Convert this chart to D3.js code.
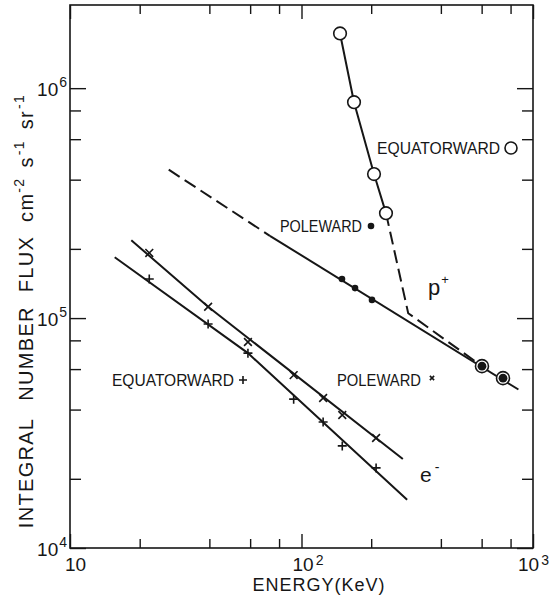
<!DOCTYPE html>
<html>
<head>
<meta charset="utf-8">
<script src="https://cdn.jsdelivr.net/npm/d3@7"></script>
<style>
  body { margin: 0; background: #fff; }
  svg { display: block; }
  text { font-family: "Liberation Sans", Arial, sans-serif; fill: #161616; }
</style>
</head>
<body>
<div id="chart"></div>
<script>
// electrons: energies (keV) and integral fluxes
var eEnergy = [22, 39.5, 58.7, 92.5, 124, 150, 210];
var ePoleFlux = [1.92e5, 1.12e5, 7.87e4, 5.65e4, 4.49e4, 3.79e4, 3.01e4];
var eEquatFlux = [1.48e5, 9.42e4, 7.04e4, 4.44e4, 3.53e4, 2.78e4, 2.23e4];
// hand-drawn electron lines (vertices)
var ePoleFitE = [18.4, 39.5, 274], ePoleFitF = [2.18e5, 1.12e5, 2.44e4];
var eEquatFitE = [15.6, 58.7, 286], eEquatFitF = [1.84e5, 7.04e4, 1.62e4];

// protons
var pEquatE = [146.7, 168.6, 205.7, 231.7];
var pEquatF = [1.73e6, 8.69e5, 4.23e5, 2.86e5];
var pPoleE = [149.6, 170.3, 201.6];
var pPoleF = [1.48e5, 1.35e5, 1.2e5];
var pBothE = [602, 742];          // equatorward and poleward coincide
var pBothF = [6.18e4, 5.48e4];
// equatorward extrapolation (dashed) : last circle -> bend -> first shared point
var pEquatDashE = [231.7, 289, 602], pEquatDashF = [2.86e5, 1.05e5, 6.18e4];
// poleward fit: dashed part then solid part
var pPoleDashE = [26.7, 73], pPoleDashF = [4.42e5, 2.28e5];
var pPoleSolidE = [73, 865], pPoleSolidF = [2.28e5, 4.89e4];

// ticks
var xMajor = [10, 100, 1000], xExp = ["", "2", "3"];
var xMinor = [20, 40, 60, 80, 200, 400, 600, 800];
var yMajor = [1e4, 1e5, 1e6], yExp = ["4", "5", "6"];
var yMinor = [2e4, 4e4, 6e4, 8e4, 2e5, 4e5, 6e5, 8e5];

var width = 555, height = 598;
var plotL = 70, plotR = 533, plotT = 5, plotB = 548;

var svg = d3.select("#chart").append("svg")
    .attr("width", width)
    .attr("height", height);

var x = d3.scaleLog().domain([10, 1000]).range([plotL, plotR]);
var y = d3.scaleLog().domain([1e4, 2.3e6]).range([plotB, plotT]);

function zip(a, b) { return a.map(function(v, i) { return [v, b[i]]; }); }

var line = d3.line()
    .x(function(d) { return x(d[0]); })
    .y(function(d) { return y(d[1]); });

// ---- frame and ticks (inward on all four sides)
function tickSet(axis, vals, len, tr) {
  svg.append("g")
    .attr("transform", tr)
    .call(axis.tickValues(vals).tickSize(-len).tickSizeOuter(0).tickFormat(""))
    .call(function(g) { g.select(".domain").remove(); })
    .selectAll("line").attr("stroke", "#161616").attr("stroke-width", 1.4);
}
tickSet(d3.axisBottom(x), xMajor, 14, "translate(0," + plotB + ")");
tickSet(d3.axisBottom(x), xMinor, 9, "translate(0," + plotB + ")");
tickSet(d3.axisTop(x), xMajor, 14, "translate(0," + plotT + ")");
tickSet(d3.axisTop(x), xMinor, 9, "translate(0," + plotT + ")");
tickSet(d3.axisLeft(y), yMajor, 16, "translate(" + plotL + ",0)");
tickSet(d3.axisLeft(y), yMinor, 11, "translate(" + plotL + ",0)");
tickSet(d3.axisRight(y), yMajor, 16, "translate(" + plotR + ",0)");
tickSet(d3.axisRight(y), yMinor, 11, "translate(" + plotR + ",0)");

svg.append("rect")
  .attr("x", plotL).attr("y", plotT)
  .attr("width", plotR - plotL).attr("height", plotB - plotT)
  .attr("fill", "none").attr("stroke", "#161616").attr("stroke-width", 1.6);

// ---- tick labels
yMajor.forEach(function(v, i) {
  var t = svg.append("text")
    .attr("x", 67).attr("y", y(v) + 8)
    .attr("text-anchor", "end")
    .style("font-size", "19px");
  t.append("tspan").text("10");
  t.append("tspan").attr("dy", -9).attr("dx", 1).style("font-size", "14px").text(yExp[i]);
});
xMajor.forEach(function(v, i) {
  var lx = xExp[i] ? x(v) - 9 : x(v) - 5;
  var t = svg.append("text")
    .attr("x", Math.min(lx, 518)).attr("y", 571)
    .style("font-size", "19px");
  t.append("tspan").text("10");
  if (xExp[i]) t.append("tspan").attr("dy", -6).attr("dx", 2).style("font-size", "14px").text(xExp[i]);
});

// ---- axis titles
svg.append("text")
  .attr("x", 319).attr("y", 591)
  .attr("text-anchor", "middle")
  .style("font-size", "18px")
  .style("letter-spacing", "1px")
  .text("ENERGY(KeV)");

var yt = svg.append("text")
  .attr("transform", "translate(33,311) rotate(-90)")
  .attr("text-anchor", "middle")
  .style("font-size", "20px")
  .style("letter-spacing", "1.3px");
yt.append("tspan").text("INTEGRAL");
yt.append("tspan").attr("dx", 17).text("NUMBER");
yt.append("tspan").attr("dx", 14).text("FLUX");
yt.append("tspan").attr("dx", 14).text("cm");
yt.append("tspan").attr("dy", -9).style("font-size", "14px").text("-2");
yt.append("tspan").attr("dy", 9).attr("dx", 10).text("s");
yt.append("tspan").attr("dy", -9).attr("dx", 1).style("font-size", "14px").text("-1");
yt.append("tspan").attr("dy", 9).attr("dx", 11).text("sr");
yt.append("tspan").attr("dy", -9).attr("dx", 1).style("font-size", "14px").text("-1");

// ---- lines
function path(data, dashed) {
  svg.append("path")
    .datum(data)
    .attr("d", line)
    .attr("fill", "none")
    .attr("stroke", "#161616")
    .attr("stroke-width", 2)
    .attr("stroke-dasharray", dashed ? "13,6" : null);
}
path(zip(ePoleFitE, ePoleFitF), false);
path(zip(eEquatFitE, eEquatFitF), false);
path(zip(pPoleDashE, pPoleDashF), true);
path(zip(pPoleSolidE, pPoleSolidF), false);
path(zip(pEquatE, pEquatF), false);
path(zip(pEquatDashE, pEquatDashF), true);

// ---- markers
function cross(g, cx, cy, s, rot) {
  g.append("path")
    .attr("d", "M" + (-s) + ",0H" + s + "M0," + (-s) + "V" + s)
    .attr("transform", "translate(" + cx + "," + cy + ") rotate(" + rot + ")")
    .attr("stroke", "#161616").attr("stroke-width", 1.6).attr("fill", "none");
}
var mk = svg.append("g");
zip(eEnergy, ePoleFlux).forEach(function(d) { cross(mk, x(d[0]), y(d[1]), 5.5, 45); });
zip(eEnergy, eEquatFlux).forEach(function(d) { cross(mk, x(d[0]), y(d[1]), 4.5, 0); });

mk.selectAll(".open").data(zip(pEquatE, pEquatF)).enter().append("circle")
  .attr("cx", function(d) { return x(d[0]); })
  .attr("cy", function(d) { return y(d[1]); })
  .attr("r", 6.3).attr("fill", "#fff").attr("stroke", "#161616").attr("stroke-width", 1.6);
mk.selectAll(".dot").data(zip(pPoleE, pPoleF)).enter().append("circle")
  .attr("cx", function(d) { return x(d[0]); })
  .attr("cy", function(d) { return y(d[1]); })
  .attr("r", 3.3).attr("fill", "#161616");
var both = mk.selectAll(".both").data(zip(pBothE, pBothF)).enter().append("g")
  .attr("transform", function(d) { return "translate(" + x(d[0]) + "," + y(d[1]) + ")"; });
both.append("circle").attr("r", 6.5).attr("fill", "#fff").attr("stroke", "#161616").attr("stroke-width", 1.6);
both.append("circle").attr("r", 4.4).attr("fill", "#161616");

// ---- annotations
function label(txt, lx, ly, len) {
  svg.append("text")
    .attr("x", lx).attr("y", ly)
    .attr("textLength", len).attr("lengthAdjust", "spacingAndGlyphs")
    .style("font-size", "16px")
    .text(txt);
}
label("EQUATORWARD", 377, 154, 123);
svg.append("circle").attr("cx", 511).attr("cy", 148).attr("r", 6)
  .attr("fill", "#fff").attr("stroke", "#161616").attr("stroke-width", 1.6);
label("POLEWARD", 280, 232, 82);
svg.append("circle").attr("cx", 371).attr("cy", 226).attr("r", 3.3).attr("fill", "#161616");
label("EQUATORWARD", 112, 386, 122);
cross(svg, 243, 380, 4, 0);
label("POLEWARD", 337, 386, 84);
cross(svg, 432, 378, 3, 45);

var pt = svg.append("text").attr("x", 428).attr("y", 295).style("font-size", "22px");
pt.append("tspan").text("p");
pt.append("tspan").attr("dy", -11).attr("dx", 1).style("font-size", "13px").text("+");
var et = svg.append("text").attr("x", 420).attr("y", 482).style("font-size", "21px");
et.append("tspan").text("e");
et.append("tspan").attr("dy", -10).attr("dx", 3).style("font-size", "14px").text("-");
</script>
</body>
</html>
